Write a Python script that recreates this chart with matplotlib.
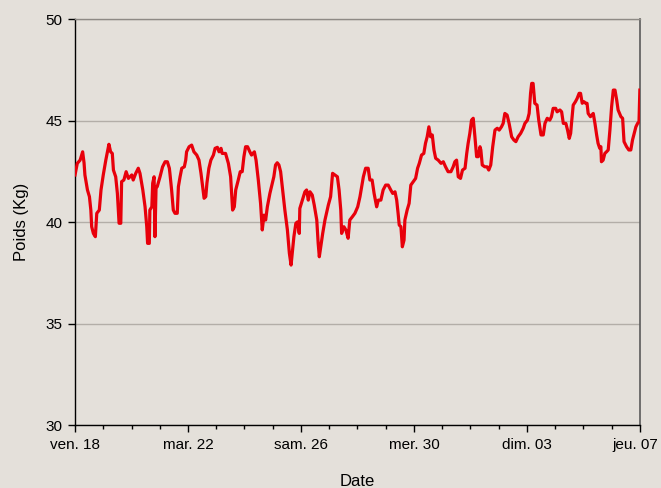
import numpy as np
import pandas as pd
import matplotlib
matplotlib.use('Agg')
import matplotlib.pyplot as plt
import matplotlib.dates as mdates
from matplotlib.ticker import FuncFormatter
from matplotlib.transforms import ScaledTranslation

# debut de la serie
debut = pd.Timestamp('2011-03-18')

# temps en jours depuis le debut, poids en kg
jours = [0.00, 0.08, 0.18, 0.27, 0.32, 0.35, 0.44, 0.51, 0.56, 0.59, 0.65, 0.72, 0.77, 0.86, 0.92,
         1.00, 1.09, 1.16, 1.20, 1.26, 1.32, 1.36, 1.44, 1.50, 1.56, 1.62, 1.65, 1.73, 1.81, 1.89,
         2.01, 2.06, 2.15, 2.24, 2.30, 2.40, 2.48, 2.54, 2.57, 2.63, 2.65, 2.72, 2.75, 2.80, 2.83,
         2.87, 2.91, 3.01, 3.10, 3.19, 3.27, 3.34, 3.36, 3.42, 3.48, 3.54, 3.62, 3.66, 3.72, 3.78,
         3.87, 3.92, 3.95, 4.04, 4.13, 4.21, 4.31, 4.39, 4.46, 4.52, 4.57, 4.63, 4.67, 4.74, 4.81,
         4.90, 4.96, 5.04, 5.10, 5.17, 5.21, 5.33, 5.43, 5.51, 5.58, 5.64, 5.69, 5.78, 5.85, 5.92,
         5.98, 6.04, 6.11, 6.19, 6.25, 6.35, 6.41, 6.49, 6.57, 6.63, 6.69, 6.75, 6.81, 6.90, 6.97,
         7.04, 7.10, 7.16, 7.22, 7.28, 7.35, 7.43, 7.52, 7.59, 7.65, 7.69, 7.75, 7.82, 7.88, 7.94,
         7.96, 8.05, 8.14, 8.20, 8.26, 8.32, 8.40, 8.47, 8.56, 8.61, 8.65, 8.70, 8.77, 8.85, 8.97,
         9.05, 9.12, 9.20, 9.29, 9.35, 9.41, 9.44, 9.52, 9.59, 9.67, 9.73, 9.82, 9.91, 10.01, 10.09,
         10.15, 10.21, 10.29, 10.38, 10.44, 10.52, 10.59, 10.68, 10.74, 10.83, 10.91, 11.00, 11.09,
         11.18, 11.25, 11.33, 11.39, 11.44, 11.48, 11.54, 11.59, 11.65, 11.68, 11.76, 11.83, 11.89,
         11.98, 12.06, 12.13, 12.19, 12.27, 12.35, 12.41, 12.47, 12.53, 12.59, 12.65, 12.71, 12.77,
         12.86, 12.96, 13.04, 13.12, 13.21, 13.31, 13.39, 13.45, 13.51, 13.57, 13.65, 13.72, 13.81,
         13.87, 13.92, 13.98, 14.04, 14.10, 14.16, 14.22, 14.28, 14.34, 14.37, 14.42, 14.51, 14.59,
         14.65, 14.72, 14.79, 14.87, 14.95, 15.02, 15.10, 15.16, 15.22, 15.30, 15.37, 15.46, 15.54,
         15.61, 15.69, 15.78, 15.87, 15.93, 16.02, 16.08, 16.13, 16.17, 16.22, 16.28, 16.36, 16.42,
         16.50, 16.58, 16.64, 16.72, 16.81, 16.87, 16.93, 17.02, 17.07, 17.17, 17.23, 17.29, 17.38,
         17.44, 17.50, 17.55, 17.58, 17.64, 17.72, 17.78, 17.85, 17.90, 17.96, 18.02, 18.08, 18.13,
         18.17, 18.25, 18.35, 18.41, 18.47, 18.52, 18.58, 18.62, 18.64, 18.70, 18.76, 18.82, 18.88,
         18.94, 19.00, 19.06, 19.12, 19.18, 19.23, 19.33, 19.39, 19.44, 19.53, 19.61, 19.68, 19.74,
         19.80, 19.86, 19.92, 19.97, 20.00]
poids = [42.32, 42.89, 43.05, 43.46, 42.91, 42.32, 41.58, 41.25, 40.59, 39.77, 39.44, 39.28, 40.43, 40.59, 41.58,
         42.32, 43.05, 43.55, 43.83, 43.46, 43.38, 42.56, 42.23, 41.41, 39.94, 39.94, 41.99, 42.07, 42.48, 42.15,
         42.32, 42.07, 42.40, 42.65, 42.40, 41.58, 40.75, 39.77, 38.95, 38.95, 40.59, 40.75, 41.91, 42.23, 39.28,
         41.74, 41.74, 42.23, 42.72, 42.97, 42.97, 42.65, 42.40, 41.58, 40.59, 40.43, 40.43, 41.74, 42.23, 42.65,
         42.72, 43.05, 43.46, 43.71, 43.79, 43.46, 43.30, 43.05, 42.40, 41.74, 41.17, 41.25, 41.91, 42.65, 43.05,
         43.30, 43.63, 43.68, 43.46, 43.63, 43.38, 43.38, 42.89, 42.23, 40.59, 40.75, 41.58, 42.07, 42.48, 42.48,
         43.22, 43.71, 43.71, 43.46, 43.30, 43.46, 43.05, 42.07, 40.92, 39.61, 40.34, 40.10, 40.75, 41.41, 41.82,
         42.23, 42.81, 42.92, 42.81, 42.48, 41.58, 40.59, 39.61, 38.46, 37.88, 38.46, 39.28, 39.94, 40.01, 39.44,
         40.67, 41.08, 41.49, 41.58, 41.08, 41.49, 41.33, 40.84, 40.10, 38.95, 38.29, 38.78, 39.44, 40.10, 40.84,
         41.25, 42.40, 42.32, 42.23, 41.58, 40.59, 39.44, 39.77, 39.61, 39.20, 40.10, 40.26, 40.43, 40.75, 41.25,
         41.74, 42.23, 42.65, 42.65, 42.07, 42.07, 41.41, 40.75, 41.08, 41.08, 41.58, 41.82, 41.82,
         41.58, 41.41, 41.49, 41.08, 40.43, 39.85, 39.77, 38.78, 39.11, 40.10, 40.59, 40.92, 41.82,
         41.99, 42.15, 42.65, 42.89, 43.30, 43.38, 43.88, 44.20, 44.69, 44.20, 44.29, 43.55, 43.14,
         43.05, 42.89, 42.97, 42.72, 42.48, 42.48, 42.72, 42.97, 43.05, 42.23, 42.15, 42.56, 42.65,
         43.38, 43.88, 44.37, 45.02, 45.11, 44.20, 43.22, 43.22, 43.71, 43.55, 42.81, 42.72, 42.72,
         42.56, 42.81, 43.71, 44.53, 44.62, 44.53, 44.69, 44.86, 45.35, 45.27, 44.86, 44.20, 44.04,
         43.96, 44.20, 44.37, 44.62, 44.86, 45.02, 45.35, 46.34, 46.83, 46.83, 45.85, 45.76, 45.02,
         44.29, 44.29, 44.86, 45.11, 45.02, 45.19, 45.60, 45.60, 45.43, 45.52, 45.43, 44.86, 44.86,
         44.53, 44.12, 44.37, 44.86, 45.76, 45.93, 46.09, 46.34, 46.34, 45.85, 45.93, 45.85, 45.85,
         45.35, 45.19, 45.35, 44.86, 44.29, 43.88, 43.63, 43.71, 42.97, 43.05, 43.38, 43.46, 43.55,
         44.53, 45.68, 46.50, 46.50, 46.01, 45.52, 45.19, 45.11, 43.96, 43.71, 43.55, 43.55, 44.04,
         44.37, 44.69, 44.86, 44.94, 46.50]

# libelles des jours en francais
jours_fr = ['lun.', 'mar.', 'mer.', 'jeu.', 'ven.', 'sam.', 'dim.']

fond = '#e4e0da'
dates = debut + pd.to_timedelta(jours, unit='D')

plt.rcParams['font.family'] = ['Liberation Sans', 'DejaVu Sans']
etroit = ['Liberation Sans Narrow', 'Liberation Sans']

fig = plt.figure(figsize=(6.61, 4.88), dpi=100, facecolor=fond)
ax = fig.add_axes([0.1135, 0.129, 0.8545, 0.832])
ax.set_facecolor(fond)

ax.plot(dates, poids, color='#e8000b', linewidth=2.3, zorder=3)

ax.set_ylim(30, 50)
ax.set_yticks([30, 35, 40, 45, 50])
ax.set_xlim(debut, debut + pd.Timedelta(days=20))

ax.xaxis.set_major_locator(mdates.DayLocator(bymonthday=[18, 22, 26, 30, 3, 7]))
ax.xaxis.set_minor_locator(mdates.DayLocator())
ax.xaxis.set_major_formatter(FuncFormatter(
    lambda x, pos: '%s %02d' % (jours_fr[mdates.num2date(x).weekday()], mdates.num2date(x).day)))

ax.yaxis.grid(True, color='#b3aea8', linewidth=1.0)
ax.set_axisbelow(True)

for s in ['left', 'bottom']:
    ax.spines[s].set_color('black')
    ax.spines[s].set_linewidth(1.0)
ax.spines['top'].set_color('#8e8a85')
ax.spines['top'].set_linewidth(1.0)
ax.spines['right'].set_color('#5a5a5a')
ax.spines['right'].set_linewidth(1.2)

ax.tick_params(axis='both', which='major', direction='out', length=5, width=1,
               colors='black', pad=4)
ax.tick_params(axis='y', labelsize=11)
ax.tick_params(axis='x', which='minor', direction='out', length=3, width=1)
ax.tick_params(axis='x', which='major', length=5, labelsize=11)

ax.set_xlabel('Date', fontsize=12, labelpad=16, family=etroit)
ax.set_ylabel('Poids (Kg)', fontsize=12, labelpad=12)

# le dernier libelle deborde a droite: on le decale un peu
fig.canvas.draw()
labs = ax.get_xticklabels()
for lab in labs:
    lab.set_family(etroit)
labs[-1].set_transform(labs[-1].get_transform() + ScaledTranslation(-3 / 72, 0, fig.dpi_scale_trans))

fig.savefig('out.png', dpi=100, facecolor=fond)
